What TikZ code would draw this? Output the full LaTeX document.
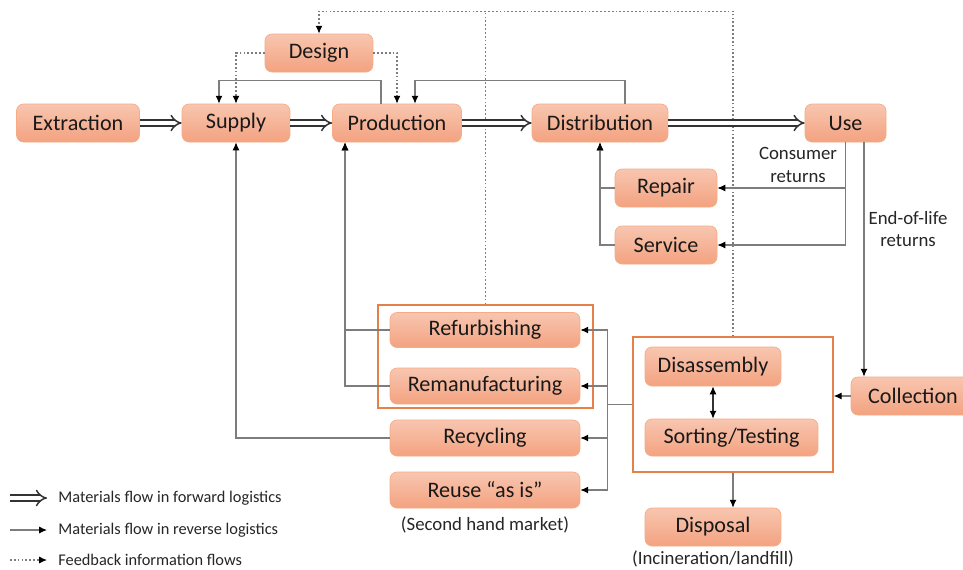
\documentclass[tikz,border=0pt]{standalone}
\usepackage{fontspec}
\setmainfont{Carlito}
\usetikzlibrary{arrows.meta}

\definecolor{stagetop}{RGB}{248,198,176}
\definecolor{stagebot}{RGB}{243,162,128}
\definecolor{stageline}{RGB}{246,172,134}
\definecolor{groupline}{RGB}{228,128,72}
\definecolor{flowgray}{RGB}{125,125,125}

\tikzset{
  stage/.style={draw=stageline, rounded corners=4pt, top color=stagetop,
    bottom color=stagebot, minimum height=0.76cm, inner sep=1pt,
    text=black!90, font=\fontsize{12.6}{14}\selectfont},
  group/.style={draw=groupline, line width=0.8pt, minimum width=#1},
  fwd/.style={draw=black!80, line width=0.85pt, double=white,
    double distance=2.4pt, -{Implies[scale=1.2]}},
  tip/.style={-{Latex[color=black, length=4.5pt, width=4pt]}},
  rev/.style={draw=flowgray, line width=0.6pt, tip},
  feedback/.style={draw=flowgray, line width=0.6pt, dash pattern=on 1pt off 1.2pt, tip},
  note/.style={align=center, inner sep=0pt, text=black!85,
    font=\fontsize{10.7}{12.8}\selectfont},
  legend/.style={anchor=west, inner sep=0pt, text=black!85,
    font=\fontsize{9.3}{11}\selectfont}
}

\begin{document}
\begin{tikzpicture}[x=0.02cm,y=-0.02cm]

  % white background, fixes the page size
  \fill [white] (0,0) rectangle (963,569);
  \useasboundingbox (0,0) rectangle (963,569);

  % forward chain
  \node[stage, minimum width=2.46cm] (extraction) at (78,123) {Extraction};
  \node[stage, minimum width=2.16cm] (supply) at (236,123) {Supply};
  \node[stage, minimum width=2.58cm] (production) at (397,123) {Production};
  \node[stage, minimum width=2.72cm] (distribution) at (600,123) {Distribution};
  \node[stage, minimum width=1.62cm] (use) at (845.5,123) {Use};
  \node[stage, minimum width=2.16cm] (design) at (319,53) {Design};

  % repair and service
  \node[stage, minimum width=2.04cm] (repair) at (666,188) {Repair};
  \node[stage, minimum width=2.04cm] (service) at (666,245) {Service};

  % recovery options
  \node[group=4.3cm, minimum height=2.06cm] (recovery) at (485.5,356.5) {};
  \node[stage, minimum width=3.8cm, minimum height=0.7cm] (refurbishing) at (485,330) {Refurbishing};
  \node[stage, minimum width=3.8cm, minimum height=0.72cm] (remanufacturing) at (485,386) {Remanufacturing};
  \node[stage, minimum width=3.8cm, minimum height=0.72cm] (recycling) at (485,438) {Recycling};
  \node[stage, minimum width=3.8cm, minimum height=0.72cm] (reuse) at (485,490) {Reuse “as is”};
  \node[note] (market) at (485,525) {(Second hand market)};

  % inspection of returned products
  \node[group=4cm, minimum height=2.7cm] (inspection) at (733,404.5) {};
  \node[stage, minimum width=2.72cm, minimum height=0.78cm] (disassembly) at (713,366.5) {Disassembly};
  \node[stage, minimum width=3.46cm, minimum height=0.74cm] (sorting) at (731.5,437.5) {Sorting/Testing};
  \node[stage, minimum width=2.48cm] (collection) at (913,396) {Collection};
  \node[stage, minimum width=2.72cm] (disposal) at (713,527) {Disposal};
  \node[note] (landfill) at (713,559) {(Incineration/landfill)};

  % labels on the returns
  \node[note] (consumer) at (798,165) {Consumer\\returns};
  \node[note] (endoflife) at (908,229) {End-of-life\\returns};

  % feedback information
  \draw [feedback] (design.west) -| (supply.north);
  \draw [feedback] (design.east) -| (production.north);
  \draw [feedback, -] (recovery.north) -- ++(0,-293);
  \draw [feedback] (inspection.north) -- ++(0,-325) -| (design.north);

  % forward material flows
  \foreach \a/\b in {extraction/supply, production/distribution, supply/production, distribution/use}
    \draw [fwd] (\a) -- (\b);

  % reverse material flows
  \draw [rev] ([xshift=-0.32cm]production.north) -- ++(0,-23) -| ([xshift=-0.34cm]supply.north);
  \draw [rev] ([xshift=0.5cm]distribution.north) -- ++(0,-23) -| ([xshift=0.36cm]production.north);
  \draw [rev] (repair.west) -| (distribution.south);
  \draw [rev] (service.west) -| (distribution.south);
  \draw [rev] (use.south) |- (repair.east);
  \draw [rev] (use.south) |- (service.east);
  \draw [rev] ([xshift=0.37cm]use.south) -- ([xshift=0.37cm]use.south |- collection.north);
  \draw [rev] (collection.west) -- (collection.west -| inspection.east);
  \draw [rev] (inspection.south) -- (inspection.south |- disposal.north);
  \draw [rev, {Latex[color=black, length=4.5pt, width=4pt]}-{Latex[color=black, length=4.5pt, width=4pt]}, draw=black!80]
    (disassembly.south) -- (disassembly.south |- sorting.north);

  % sorted products go to the recovery options
  \coordinate (split) at ([xshift=-0.5cm]inspection.west);
  \draw [flowgray, line width=0.6pt] (inspection.west) -- (split);
  \foreach \t in {refurbishing, remanufacturing, recycling, reuse}
    \draw [rev] (split) |- (\t.east);

  \draw [rev] (refurbishing.west) -| ([xshift=-1.04cm]production.south);
  \draw [rev] (remanufacturing.west) -| ([xshift=-1.04cm]production.south);
  \draw [rev] (recycling.west) -| (supply.south);

  % legend
  \node[legend] (lfwd) at (58,498) {Materials flow in forward logistics};
  \node[legend] (lrev) at (58,530) {Materials flow in reverse logistics};
  \node[legend] (lfb) at (58,560) {Feedback information flows};
  \draw [fwd] ([xshift=-0.96cm]lfwd.west) -- ([xshift=-0.22cm]lfwd.west);
  \draw [rev] ([xshift=-0.96cm]lrev.west) -- ([xshift=-0.22cm]lrev.west);
  \draw [feedback] ([xshift=-0.96cm]lfb.west) -- ([xshift=-0.22cm]lfb.west);

\end{tikzpicture}
\end{document}
